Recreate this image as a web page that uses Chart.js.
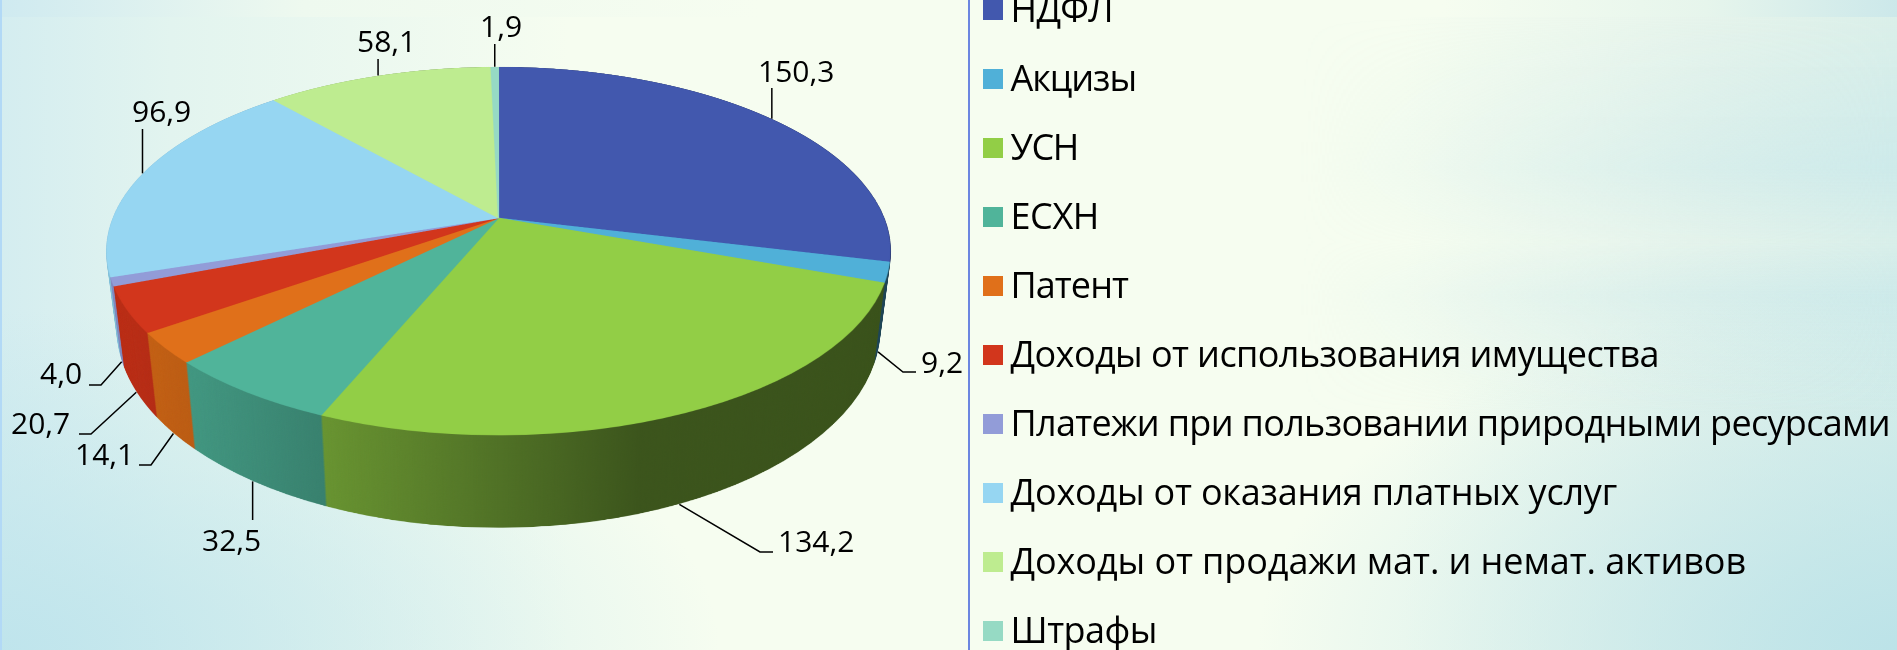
<!DOCTYPE html>
<html lang="ru">
<head>
<meta charset="utf-8">
<title>Структура доходов</title>
<script src="https://cdn.jsdelivr.net/npm/chart.js@4"></script>
<style>
html,body{margin:0;padding:0;width:1897px;height:650px;overflow:hidden}
body{background:
  linear-gradient(#6c86e0,#6c86e0) 968px 0/2px 100% no-repeat,
  linear-gradient(#b2d9f6,#b2d9f6) 0 0/2px 100% no-repeat,
  linear-gradient(90deg,#cfeaf0 0,#eef9ef 16%,#f6fdf0 40%,#f6fdf0 76%,#e6f5ec 90%,#cce8ea 100%) 0 0/100% 17px no-repeat,
  radial-gradient(ellipse 720px 340px at 0 100%,rgba(190,228,236,.95),rgba(190,228,236,0)),
  radial-gradient(ellipse 640px 360px at 100% 100%,rgba(186,226,232,.95),rgba(186,226,232,0)),
  linear-gradient(90deg,#d4edf0 0,#e2f4ef 9%,#f6fdf0 30%,#f6fdf0 74%,#e6f4ec 90%,#dbf0ea 100%);}
#bands{position:absolute;left:1300px;top:17px;width:597px;height:400px;
  background:linear-gradient(180deg,rgba(196,230,234,0) 0,rgba(196,230,234,.6) 150px,rgba(196,230,234,.1) 225px,rgba(196,230,234,.6) 278px,rgba(196,230,234,0) 400px);
  -webkit-mask-image:linear-gradient(90deg,transparent,#000);mask-image:linear-gradient(90deg,transparent,#000)}
#wrap{position:absolute;left:0;top:0;width:1897px;height:650px}
</style>
</head>
<body>
<div id="bands"></div>
<div id="wrap"><canvas id="c" width="1897" height="650"></canvas></div>
<script>
// ---- data ----
const categories = ['НДФЛ','Акцизы','УСН','ЕСХН','Патент','Доходы от использования имущества',
  'Платежи при пользовании природными ресурсами','Доходы от оказания платных услуг',
  'Доходы от продажи мат. и немат. активов','Штрафы'];
const values = [150.3,9.2,134.2,32.5,14.1,20.7,4.0,96.9,58.1,1.9];
const colors = ['#4258ae','#50b0d8','#92ce46','#50b49a','#e0701a','#d2361c','#929cd8','#96d6f2','#beec90','#96dac4'];

// ---- layout / style (not data) ----
const view = {cx:498.5,cy:218,a:386.3,b:178.5,t:0.18};    // perspective of the disc
const wall = {shrink:0.027,stretch:0.08,depth:75};        // side wall
const wallShade = [[105,.90],[200,.83],[320,.72],[500,.55],[640,.41],[900,.40]];
// per slice: label left, baseline, then points of the leader line after the rim (null x = straight up/down)
const labelSpots = [
  {x:758,y:82,path:[[null,88]]},
  {x:921,y:373,path:[[903,372],[916,372]]},
  {x:778,y:552,path:[[760,552],[773,552]]},
  {x:202,y:551,path:[[null,520]]},
  {x:75,y:465,path:[[151,465],[139,465]]},
  {x:11,y:434,path:[[91,434],[79,434]]},
  {x:40,y:384,path:[[101,385],[89,385]]},
  {x:132,y:122,path:[[null,129]]},
  {x:357,y:52,path:[[null,59]]},
  {x:480,y:37,path:[[null,44]]}
];
const labelFont = '30px "Open Sans"';
const legendFont = '36px "Open Sans"';
const legendLayout = {boxX:983,boxTop:0,box:20,step:69,textX:1010.5,baselineGap:12};
// right end of each legend text
const legendEnds = [1113,1136,1078,1099,1128,1659,1890,1617,1746,1157];

function toWarp(cos,sin){
  const d=1-view.t*sin;
  return {x:view.a*cos/d,y:view.b*sin/d};
}

const tilted = {
  id:'tilted3d',
  beforeDatasetsDraw(chart){
    const arcs=chart.getDatasetMeta(0).data;
    const R=arcs[0].outerRadius+1, S=2;
    const flat=document.createElement('canvas');
    flat.width=flat.height=Math.ceil(2*R*S);
    const f=flat.getContext('2d');
    f.setTransform(S,0,0,S,-(arcs[0].x-R)*S,-(arcs[0].y-R)*S);
    arcs.forEach(a=>a.draw(f));

    // warp the flat disc into the tilted one, row by row
    const W=chart.width,H=chart.height,Q=2;
    const top=document.createElement('canvas');
    top.width=W*Q;top.height=H*Q;
    const g=top.getContext('2d');
    g.imageSmoothingQuality='high';
    const yMin=view.b*-1/(1+view.t), yMax=view.b/(1-view.t);
    for(let row=Math.floor((view.cy+yMin)*Q);row<=Math.ceil((view.cy+yMax)*Q);row++){
      const yy=(row+.5)/Q-view.cy;
      const s=yy/(view.b+view.t*yy);
      if(s<-1||s>1)continue;
      const half=view.a/(1-view.t*s);
      const dsdy=view.b/Math.pow(view.b+view.t*yy,2)/Q;
      const srcH=dsdy*R*S;
      g.drawImage(flat,0,(s-dsdy/2+1)*R*S,2*R*S,srcH,(view.cx-half)*Q,row,2*half*Q,1);
    }

    // side wall: the tilted disc pushed downwards, then shaded
    const side=document.createElement('canvas');
    side.width=W;side.height=H;
    const w=side.getContext('2d');
    const steps=130;
    for(let i=steps;i>=0;i--){
      const k=i/steps;
      const sx=1-wall.shrink*k, sy=1+wall.stretch*k;
      w.setTransform(sx,0,0,sy,view.cx*(1-sx),view.cy*(1-sy)+wall.depth*k);
      w.drawImage(top,0,0,W,H);
    }
    w.setTransform(1,0,0,1,0,0);
    const x0=wallShade[0][0],x1=wallShade[wallShade.length-1][0];
    const grad=w.createLinearGradient(x0,0,x1,0);
    wallShade.forEach(([x,v])=>grad.addColorStop((x-x0)/(x1-x0),`rgba(0,0,0,${1-v})`));
    w.globalCompositeOperation='source-atop';
    w.fillStyle=grad;
    w.fillRect(0,0,W,H);

    const c=chart.ctx;
    c.save();
    c.imageSmoothingQuality='high';
    c.drawImage(side,0,0);
    c.drawImage(top,0,0,W,H);
    c.restore();
    return false;
  },
  afterDraw(chart){
    const c=chart.ctx,arcs=chart.getDatasetMeta(0).data;
    c.save();
    c.strokeStyle='#000';c.lineWidth=1.5;c.fillStyle='#000';
    c.textBaseline='alphabetic';c.textAlign='left';
    c.font=labelFont;
    arcs.forEach((a,i)=>{
      const m=(a.startAngle+a.endAngle)/2, cos=Math.cos(m), sin=Math.sin(m);
      const p=toWarp(cos,sin);
      let px=view.cx+p.x, py=view.cy+p.y;
      if(sin>0.02){px=view.cx+p.x*(1-wall.shrink);py=view.cy+p.y*(1+wall.stretch)+wall.depth;}
      const spot=labelSpots[i];
      c.beginPath();c.moveTo(px,py);
      spot.path.forEach(([x,y])=>c.lineTo(x===null?px:x,y));
      c.stroke();
      c.fillText(values[i].toFixed(1).replace('.',','),spot.x,spot.y);
    });
    // legend: each text is fitted to its width in the reference
    const L=legendLayout;
    c.font=legendFont;
    categories.forEach((name,i)=>{
      const y=L.boxTop+i*L.step;
      c.fillStyle=colors[i];
      c.fillRect(L.boxX,y,L.box,L.box);
      c.letterSpacing='0px';
      const natural=c.measureText(name).width;
      c.letterSpacing=((legendEnds[i]-L.textX-natural)/name.length).toFixed(3)+'px';
      c.fillStyle='#000';
      c.fillText(name,L.textX,y+L.box/2+L.baselineGap);
    });
    c.restore();
  }
};

new Chart(document.getElementById('c'),{
  type:'pie',
  data:{labels:categories,datasets:[{data:values,backgroundColor:colors,borderColor:colors,borderWidth:1}]},
  options:{responsive:false,animation:false,rotation:0,
    layout:{padding:0},
    plugins:{legend:{display:false},tooltip:{enabled:false},title:{display:false}}},
  plugins:[tilted]
});
</script>
</body>
</html>
